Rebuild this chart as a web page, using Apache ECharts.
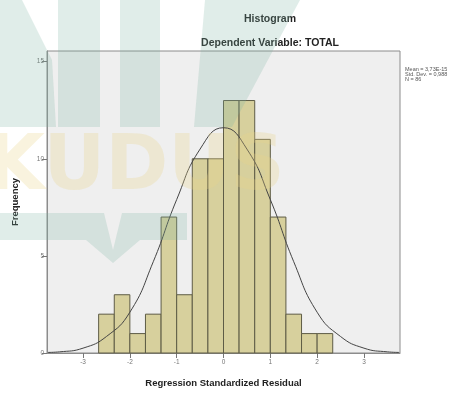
<!DOCTYPE html>
<html>
<head>
<meta charset="utf-8">
<script src="https://cdn.jsdelivr.net/npm/echarts@6/dist/echarts.min.js"></script>
<style>
  html, body { margin: 0; padding: 0; background: #fff; }
  #chart { width: 476px; height: 393px; }
</style>
</head>
<body>
<div id="chart"></div>
<script>
// bin edges (width 1/3) and frequencies
var binEdges = [-2.667, -2.333, -2, -1.667, -1.333, -1, -0.667, -0.333, 0,
                0.333, 0.667, 1, 1.333, 1.667, 2, 2.333];
var counts = [2, 3, 1, 2, 7, 3, 10, 10, 13, 13, 11, 7, 2, 1, 1];

// normal curve
var curveX = [-3.75, -3.5, -3, -2.5, -2, -1.5, -1, -0.5, 0, 0.5, 1, 1.5, 2, 2.5, 3, 3.5, 3.75];
var curveY = [0.03, 0.06, 0.25, 0.85, 2.1, 4.7, 7.9, 10.5, 11.6, 10.5, 7.9, 4.7, 2.1, 0.85, 0.25, 0.06, 0.03];

var xTicks = [-3, -2, -1, 0, 1, 2, 3];
var yTicks = [0, 5, 10, 15];
var statLines = ['Mean = 3,73E-15', 'Std. Dev. = 0,988', 'N = 86'];

var font = 'Liberation Sans';
var chart = echarts.init(document.getElementById('chart'));

var barData = counts.map(function (c, i) {
  return [binEdges[i], binEdges[i + 1], c];
});
var curveData = curveX.map(function (x, i) {
  return [x, curveY[i]];
});

// faint logo watermark sitting over the picture
var teal = { fill: '#7fb3a3', opacity: 0.24 };
var watermark = [
  { type: 'polygon', shape: { points: [[0, 0], [22, 0], [52, 60], [56, 127], [0, 127]] }, style: teal },
  { type: 'rect', shape: { x: 58, y: 0, width: 42, height: 127 }, style: teal },
  { type: 'rect', shape: { x: 120, y: 0, width: 40, height: 127 }, style: teal },
  { type: 'polygon', shape: { points: [[205, 0], [300, 0], [232, 127], [194, 127]] }, style: teal },
  { type: 'polygon', shape: { points: [[0, 213], [104, 213], [113, 250], [122, 213], [187, 213],
      [187, 240], [140, 240], [113, 263], [86, 240], [0, 240]] }, style: teal },
  { type: 'text', left: -14, top: 131, style: { text: 'KUDUS', font: 'bold 76px "DejaVu Sans"',
      fill: '#e8d48a', opacity: 0.28 } }
].map(function (g) { g.z = 50; g.silent = true; return g; });

var stats = statLines.map(function (t, i) {
  return { type: 'text', left: 405, top: 66 + i * 5, z: 60,
    style: { text: t, font: '5.5px "' + font + '"', fill: '#555' } };
});

var option = {
  backgroundColor: '#fff',
  animation: false,
  title: [
    { text: 'Histogram', left: 265, top: 9, textAlign: 'center',
      textStyle: { fontFamily: font, fontSize: 10.5, fontWeight: 'bold', color: '#222' } },
    { text: 'Dependent Variable: TOTAL', left: 265, top: 33, textAlign: 'center',
      textStyle: { fontFamily: font, fontSize: 10.5, fontWeight: 'bold', color: '#222' } }
  ],
  grid: {
    left: 47, right: 76, top: 51, bottom: 38,
    show: true, backgroundColor: '#efefef', borderColor: '#8c8c8c', borderWidth: 1
  },
  xAxis: {
    type: 'value', min: -3.77, max: 3.77,
    name: 'Regression Standardized Residual', nameLocation: 'middle', nameGap: 25,
    nameTextStyle: { fontFamily: font, fontSize: 9.5, fontWeight: 'bold', color: '#222' },
    axisLine: { show: true, onZero: false, lineStyle: { color: '#8c8c8c' } },
    axisTick: { show: true, length: 5, customValues: xTicks, lineStyle: { color: '#777' } },
    axisLabel: { customValues: xTicks, fontFamily: font, fontSize: 6.5, color: '#777', margin: 6 },
    splitLine: { show: false }
  },
  yAxis: {
    type: 'value', min: 0, max: 15.55,
    name: 'Frequency', nameLocation: 'middle', nameGap: 27,
    nameTextStyle: { fontFamily: font, fontSize: 9.5, fontWeight: 'bold', color: '#222' },
    axisLine: { show: true, onZero: false, lineStyle: { color: '#8c8c8c' } },
    axisTick: { show: true, length: 5, customValues: yTicks, lineStyle: { color: '#777' } },
    axisLabel: { customValues: yTicks, fontFamily: font, fontSize: 6.5, color: '#777', margin: 3 },
    splitLine: { show: false }
  },
  graphic: watermark.concat(stats),
  series: [
    {
      type: 'custom',
      data: barData,
      encode: { x: [0, 1], y: 2 },
      renderItem: function (params, api) {
        var p0 = api.coord([api.value(0), api.value(2)]);
        var p1 = api.coord([api.value(1), 0]);
        return {
          type: 'rect',
          shape: { x: p0[0], y: p0[1], width: p1[0] - p0[0], height: p1[1] - p0[1] },
          style: { fill: '#d7d09d', stroke: '#5e5c46', lineWidth: 1 }
        };
      }
    },
    {
      type: 'line',
      data: curveData,
      smooth: true,
      showSymbol: false,
      lineStyle: { color: '#444', width: 1 },
      z: 5
    }
  ]
};

chart.setOption(option);
</script>
</body>
</html>
